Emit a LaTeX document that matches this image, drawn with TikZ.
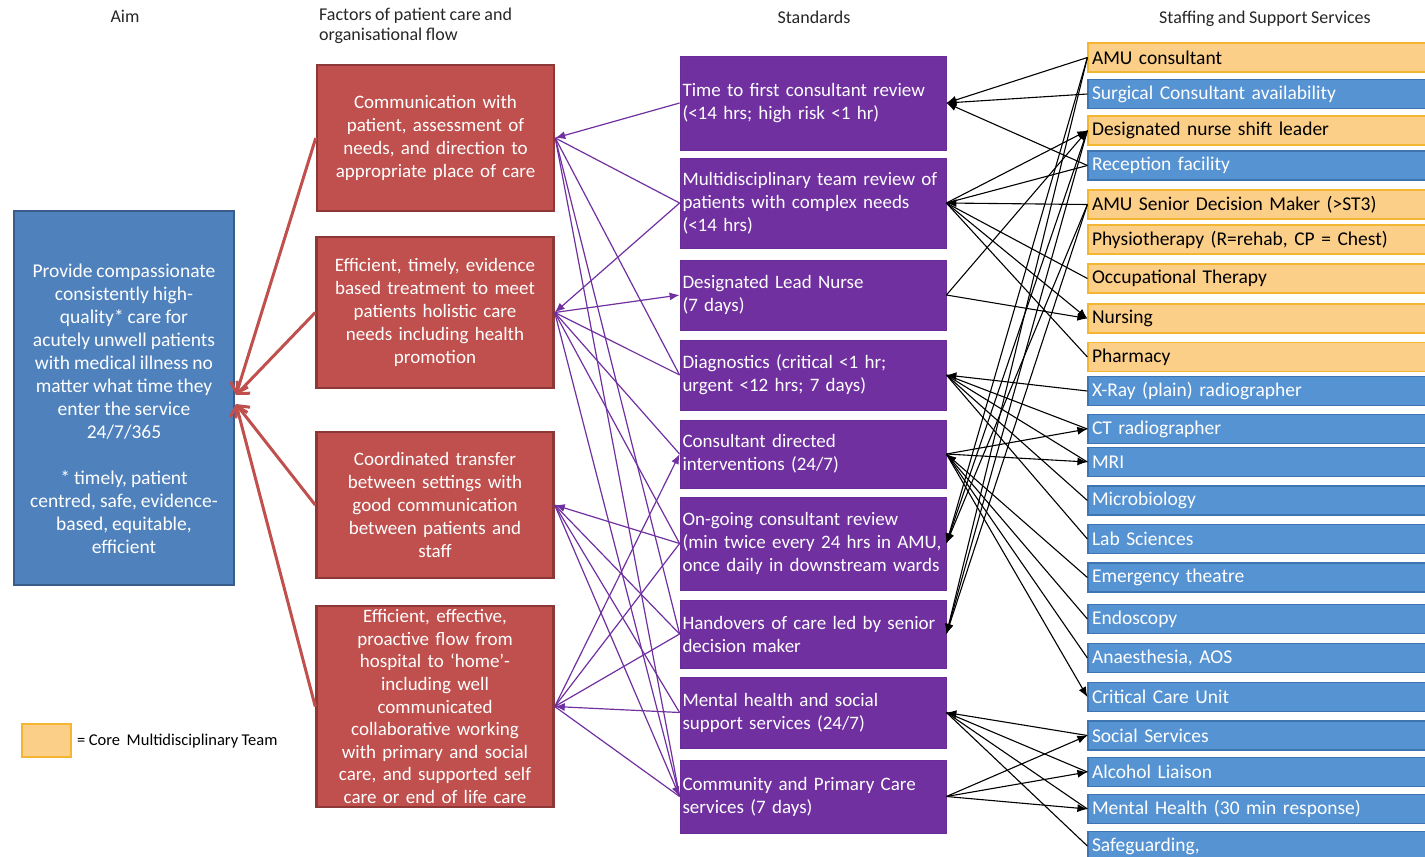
\documentclass[tikz,border=0pt]{standalone}
\usepackage{fontspec}
\setmainfont{Carlito}[WordSpace=0.9]
\usetikzlibrary{arrows.meta,calc}
\definecolor{aimfill}{HTML}{4F81BD}
\definecolor{aimborder}{HTML}{385D8A}
\definecolor{redfill}{HTML}{C0504D}
\definecolor{redborder}{HTML}{8C3836}
\definecolor{purfill}{HTML}{7030A0}
\definecolor{purborder}{HTML}{6A2D97}
\definecolor{orgfill}{HTML}{FBCF88}
\definecolor{orgborder}{HTML}{F2B632}
\definecolor{blufill}{HTML}{5593D3}
\definecolor{bluborder}{HTML}{3E75B0}
\newcommand\fsBox{\fontsize{19.5}{23}\selectfont}
\newcommand\fsPur{\fontsize{19}{23}\selectfont}
\newcommand\fsRed{\fontsize{19}{23.2}\selectfont}
\newcommand\fsRedB{\fontsize{19}{22.6}\selectfont}
\newcommand\fsHdr{\fontsize{18}{20}\selectfont}
\newcommand\fsLeg{\fontsize{16.5}{19}\selectfont}
\begin{document}
\begin{tikzpicture}[x=1pt,y=-1pt,
  aimbox/.style={draw=aimborder, line width=2pt, fill=aimfill, minimum width=220pt, minimum height=374pt, inner sep=0pt},
  aimtext/.style={text=white, align=center, font=\fsBox, inner sep=0pt},
  redbox/.style={draw=redborder, line width=2.5pt, fill=redfill, text=white, align=center, text width=233pt, inner xsep=2pt, inner ysep=0pt, minimum width=237pt, font=\fsRed},
  purbox/.style={draw=purborder, line width=0.8pt, fill=purfill, text=white, align=left, text width=261pt, inner xsep=2.5pt, inner ysep=0pt, minimum width=266pt, font=\fsPur},
  sbox/.style={line width=1.2pt, align=left, text width=344pt, inner xsep=4pt, inner ysep=0pt, minimum width=352pt, minimum height=29pt, font=\fsBox},
  orgbox/.style={sbox, draw=orgborder, fill=orgfill, text=black},
  blubox/.style={sbox, draw=bluborder, fill=blufill, text=white},
  hdr/.style={font=\fsHdr, inner sep=0pt, text=black!85},
  purline/.style={draw=purfill, line width=1.2pt},
  purarr/.style={purline, -{Latex[length=10pt,width=8pt]}},
  blkline/.style={draw=black, line width=1.1pt},
  blkarr/.style={blkline, -{Latex[length=10pt,width=8pt]}},
  redarr/.style={draw=redfill, line width=3pt, -{Straight Barb[length=9pt,width=18pt]}},
]
\useasboundingbox (0,0) rectangle (1425,857);
\clip (0,0) rectangle (1425,857);

% headers
\node[hdr] (hAim) at (125,16) {Aim};
\node[hdr, align=left, anchor=west] (hFac) at (319,26) {Factors of patient care and\\organisational flow};
\node[hdr] (hStd) at (814,17) {Standards};
\node[hdr] (hStaff) at (1265,19) {Staffing and Support Services};

% aim
\node[aimbox] (aim) at (124,398) {};
\node[aimtext] (aimtxt) at (124,409) {Provide compassionate\\consistently high-\\quality* care for\\acutely unwell patients\\with medical illness no\\matter what time they\\enter the service\\24/7/365\\[23pt]* timely, patient\\centred, safe, evidence-\\based, equitable,\\efficient};

% factors
\node[redbox, minimum height=146pt] (R1) at (435.5,138) {Communication with\\patient, assessment of\\needs, and direction to\\appropriate place of care};
\node[redbox, minimum height=151pt] (R2) at (435,312.5) {Efficient, timely, evidence\\based treatment to meet\\patients holistic care\\needs including health\\promotion};
\node[redbox, minimum height=146pt] (R3) at (435,505) {Coordinated transfer\\between settings with\\good communication\\between patients and\\staff};
\node[redbox, minimum height=201pt, font=\fsRedB] (R4) at (435,706.5) {Efficient, effective,\\proactive flow from\\hospital to ‘home’-\\including well\\communicated\\collaborative working\\with primary and social\\care, and supported self\\care or end of life care};

% standards
\node[purbox, minimum height=94pt] (P1) at (813,103) {\mbox{Time to first consultant review}\\\mbox{(<14 hrs; high risk <1 hr)}};
\node[purbox, minimum height=90pt] (P2) at (813,203) {\mbox{Multidisciplinary team review of}\\\mbox{patients with complex needs}\\(<14 hrs)};
\node[purbox, minimum height=70pt] (P3) at (813,295) {Designated Lead Nurse\\(7 days)};
\node[purbox, minimum height=70pt] (P4) at (813,375) {\mbox{Diagnostics (critical <1 hr;}\\\mbox{urgent <12 hrs; 7 days)}};
\node[purbox, minimum height=68pt] (P5) at (813,454) {Consultant directed\\interventions (24/7)};
\node[purbox, minimum height=93pt] (P6) at (813,543.5) {\mbox{On-going consultant review}\\\mbox{(min twice every 24 hrs in AMU,}\\\mbox{once daily in downstream wards}};
\node[purbox, minimum height=68pt] (P7) at (813,634) {\mbox{Handovers of care led by senior}\\decision maker};
\node[purbox, minimum height=71pt] (P8) at (813,712.5) {\mbox{Mental health and social}\\\mbox{support services (24/7)}};
\node[purbox, minimum height=73pt] (P9) at (813,796.5) {\mbox{Community and Primary Care}\\\mbox{services (7 days)}};

% staffing
\node[orgbox] (s1) at (1264,57.5) {AMU consultant};
\node[blubox] (s2) at (1264,94) {Surgical Consultant availability};
\node[orgbox] (s3) at (1264,130.5) {Designated nurse shift leader};
\node[blubox] (s4) at (1264,165.5) {Reception facility};
\node[orgbox] (s5) at (1264,204.5) {AMU Senior Decision Maker (>ST3)};
\node[orgbox] (s6) at (1264,239.5) {Physiotherapy (R=rehab, CP = Chest)};
\node[orgbox] (s7) at (1264,278.5) {Occupational Therapy};
\node[orgbox] (s8) at (1264,318.5) {Nursing};
\node[orgbox] (s9) at (1264,357) {Pharmacy};
\node[blubox] (s10) at (1264,391) {X-Ray (plain) radiographer};
\node[blubox] (s11) at (1264,429) {CT radiographer};
\node[blubox] (s12) at (1264,462) {MRI};
\node[blubox] (s13) at (1264,500.5) {Microbiology};
\node[blubox] (s14) at (1264,539) {Lab Sciences};
\node[blubox] (s15) at (1264,577.5) {Emergency theatre};
\node[blubox] (s16) at (1264,619) {Endoscopy};
\node[blubox] (s17) at (1264,658) {Anaesthesia, AOS};
\node[blubox] (s18) at (1264,697) {Critical Care Unit};
\node[blubox] (s19) at (1264,735.5) {Social Services};
\node[blubox] (s20) at (1264,772) {Alcohol Liaison};
\node[blubox] (s21) at (1264,809) {Mental Health (30 min response)};
\node[blubox] (s22) at (1264,846) {Safeguarding,};

% legend
\node[draw=orgborder, fill=orgfill, line width=1.2pt, minimum width=49pt, minimum height=33pt, inner sep=0pt] (leg) at (46.5,740.5) {};
\node[font=\fsLeg, anchor=west, inner sep=0pt] (legt) at (77,741) {= Core\ \ Multidisciplinary Team};

% aim arrows
\draw[redarr] (R1.west) -- ($(aim.east)+(1,-3)$);
\draw[redarr] (R2.west) -- ($(aim.east)+(1,-3)$);
\draw[redarr] (R3.west) -- ($(aim.east)+(1,6)$);
\draw[redarr] (R4.west) -- ($(aim.east)+(1,6)$);

% factors <-> standards
\draw[purarr] (P1.west) -- (R1.east);
\draw[purline] (R1.east) -- (P2.west);
\draw[purline] (R1.east) -- (P4.west);
\draw[purline] (R1.east) -- (P7.west);
\draw[purline] (R1.east) -- (P9.west);
\draw[purarr] (P2.west) -- (R2.east);
\draw[purarr] (R2.east) -- (P3.west);
\draw[purline] (R2.east) -- (P4.west);
\draw[purline] (R2.east) -- (P5.west);
\draw[purline] (R2.east) -- (P6.west);
\draw[purline] (R2.east) -- (P9.west);
\draw[purarr] (P6.west) -- (R3.east);
\draw[purline] (R3.east) -- (P7.west);
\draw[purline] (R3.east) -- (P8.west);
\draw[purarr] (R3.east) -- (P9.west);
\draw[purarr] (R4.east) -- (P5.west);
\draw[purline] (R4.east) -- (P6.west);
\draw[purline] (R4.east) -- (P7.west);
\draw[purarr] (P8.west) -- (R4.east);
\draw[purline] (R4.east) -- (P9.west);

% standards <-> staffing
\draw[blkarr] (s1.west) -- (P1.east);
\draw[blkarr] (s2.west) -- (P1.east);
\draw[blkarr] (s4.west) -- (P1.east);
\draw[blkarr] (P2.east) -- (s3.west);
\draw[blkline] (P2.east) -- (s4.west);
\draw[blkarr] (s5.west) -- (P2.east);
\draw[blkline] (P2.east) -- (s7.west);
\draw[blkarr] (P2.east) -- (s8.west);
\draw[blkline] (P2.east) -- (s9.west);
\draw[blkarr] (P3.east) -- (s3.west);
\draw[blkarr] (P3.east) -- (s8.west);
\draw[blkarr] (s10.west) -- (P4.east);
\draw[blkline] (P4.east) -- (s11.west);
\draw[blkline] (P4.east) -- (s12.west);
\draw[blkline] (P4.east) -- (s13.west);
\draw[blkline] (P4.east) -- (s14.west);
\draw[blkarr] (s15.west) -- (P5.east);
\draw[blkarr] (P5.east) -- (s11.west);
\draw[blkarr] (P5.east) -- (s12.west);
\draw[blkline] (P5.east) -- (s16.west);
\draw[blkline] (P5.east) -- (s17.west);
\draw[blkarr] (P5.east) -- (s18.west);
\draw[blkarr] (s1.west) -- (P6.east);
\draw[blkarr] (s3.west) -- (P6.east);
\draw[blkarr] (s5.west) -- (P6.east);
\draw[blkarr] (s1.west) -- (P7.east);
\draw[blkarr] (s3.west) -- (P7.east);
\draw[blkarr] (s5.west) -- (P7.east);
\draw[blkarr] (s19.west) -- (P8.east);
\draw[blkline] (P8.east) -- (s20.west);
\draw[blkline] (P8.east) -- (s21.west);
\draw[blkline] (P8.east) -- (s22.west);
\draw[blkarr] (P9.east) -- (s19.west);
\draw[blkarr] (P9.east) -- (s20.west);
\draw[blkarr] (P9.east) -- (s21.west);
\end{tikzpicture}
\end{document}
